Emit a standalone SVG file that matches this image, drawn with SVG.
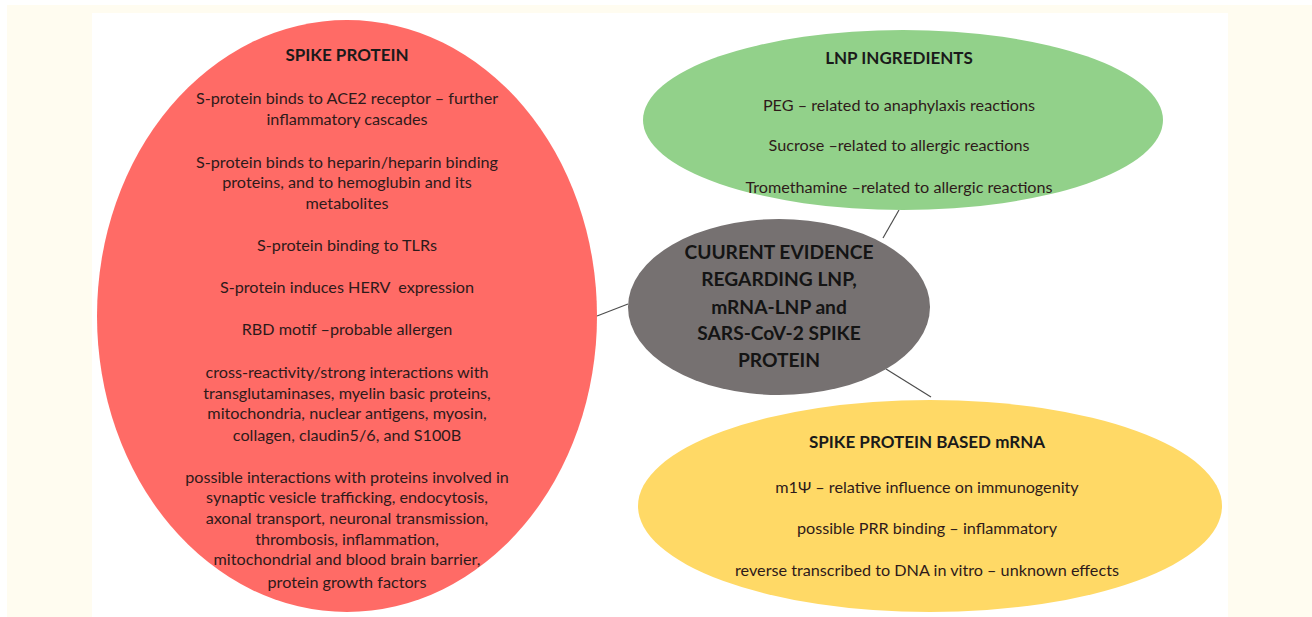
<svg xmlns="http://www.w3.org/2000/svg" width="1312" height="617" viewBox="0 0 1312 617">
<style>
.t{font-family:Lato,"Liberation Sans",sans-serif;font-size:16.2px;text-anchor:middle;fill:#2e1a1a}
.h{font-family:Lato,"Liberation Sans",sans-serif;font-size:17px;font-weight:bold;text-anchor:middle;fill:#1a1a1a}
.c{font-family:Lato,"Liberation Sans",sans-serif;font-size:19.2px;font-weight:bold;text-anchor:middle;fill:#141414}
.ln{stroke:#4d4d4d;stroke-width:1.2;fill:none}
</style>
<rect x="0" y="0" width="1312" height="617" fill="#ffffff"/>
<rect x="7" y="5" width="1305" height="612" fill="#fffcf0"/>
<rect x="92" y="13" width="1136" height="604" fill="#ffffff"/>
<g id="connectors">
<line class="ln" x1="597" y1="316" x2="628" y2="304"/>
<line class="ln" x1="899" y1="210" x2="883" y2="238"/>
<line class="ln" x1="886" y1="369" x2="931" y2="397"/>
</g>
<g id="spike-protein">
<ellipse cx="347" cy="316" rx="250" ry="296" fill="#ff6b66"/>
<text class="h" x="347" y="61">SPIKE PROTEIN</text>
<text class="t" x="347" y="104">S-protein binds to ACE2 receptor – further</text>
<text class="t" x="347" y="125">inflammatory cascades</text>
<text class="t" x="347" y="168">S-protein binds to heparin/heparin binding</text>
<text class="t" x="347" y="188">proteins, and to hemoglubin and its</text>
<text class="t" x="347" y="209">metabolites</text>
<text class="t" x="347" y="251">S-protein binding to TLRs</text>
<text class="t" x="347" y="293" xml:space="preserve">S-protein induces HERV  expression</text>
<text class="t" x="347" y="335">RBD motif –probable allergen</text>
<text class="t" x="347" y="378">cross-reactivity/strong interactions with</text>
<text class="t" x="347" y="399">transglutaminases, myelin basic proteins,</text>
<text class="t" x="347" y="419">mitochondria, nuclear antigens, myosin,</text>
<text class="t" x="347" y="441">collagen, claudin5/6, and S100B</text>
<text class="t" x="347" y="483">possible interactions with proteins involved in</text>
<text class="t" x="347" y="503">synaptic vesicle trafficking, endocytosis,</text>
<text class="t" x="347" y="524">axonal transport, neuronal transmission,</text>
<text class="t" x="347" y="545">thrombosis, inflammation,</text>
<text class="t" x="347" y="565">mitochondrial and blood brain barrier,</text>
<text class="t" x="347" y="588">protein growth factors</text>
</g>
<g id="lnp-ingredients">
<ellipse cx="903" cy="120" rx="260" ry="90" fill="#92d18a"/>
<text class="h" x="899" y="64">LNP INGREDIENTS</text>
<text class="t" x="899" y="111">PEG – related to anaphylaxis reactions</text>
<text class="t" x="899" y="151">Sucrose –related to allergic reactions</text>
<text class="t" x="899" y="193">Tromethamine –related to allergic reactions</text>
</g>
<g id="current-evidence">
<ellipse cx="779" cy="307" rx="151" ry="88" fill="#767171"/>
<text class="c" x="779" y="259">CUURENT EVIDENCE</text>
<text class="c" x="779" y="286">REGARDING LNP,</text>
<text class="c" x="779" y="314">mRNA-LNP and</text>
<text class="c" x="779" y="340">SARS-CoV-2 SPIKE</text>
<text class="c" x="779" y="367">PROTEIN</text>
</g>
<g id="spike-mrna">
<ellipse cx="930" cy="506" rx="292" ry="106" fill="#ffd966"/>
<text class="h" x="927" y="448">SPIKE PROTEIN BASED mRNA</text>
<text class="t" x="927" y="493">m1Ψ – relative influence on immunogenity</text>
<text class="t" x="927" y="534">possible PRR binding – inflammatory</text>
<text class="t" x="927" y="576">reverse transcribed to DNA in vitro – unknown effects</text>
</g>
</svg>
